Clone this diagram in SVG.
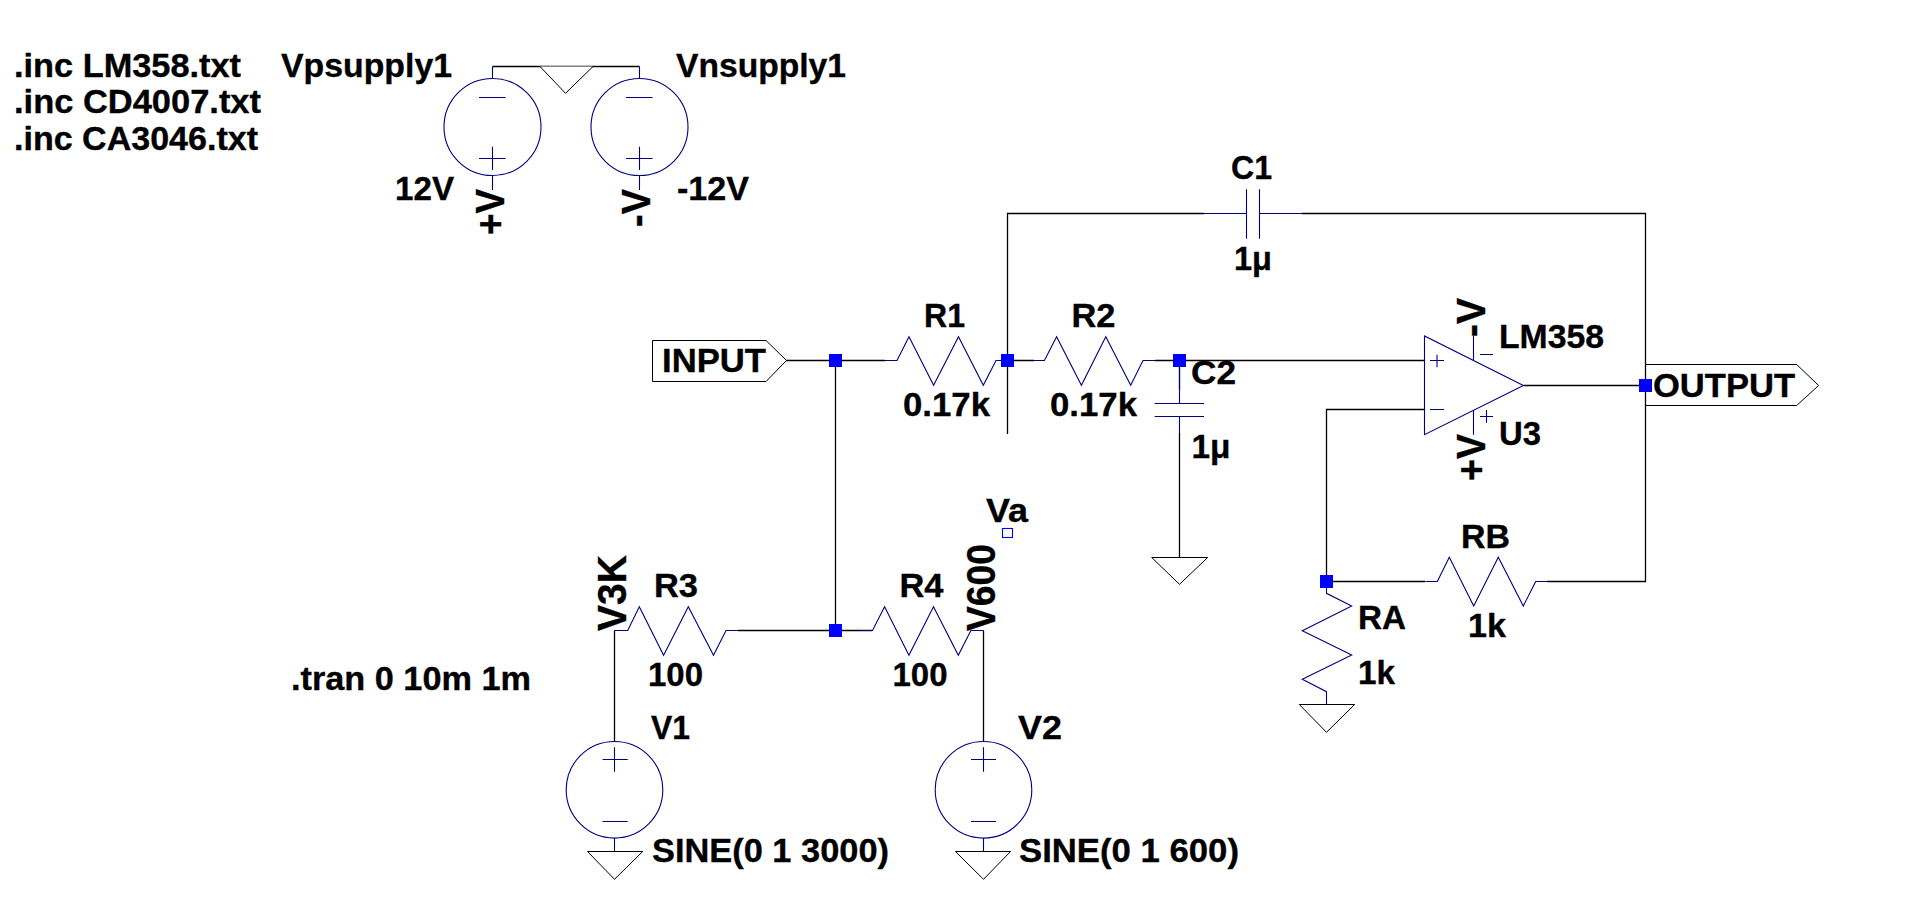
<svg xmlns="http://www.w3.org/2000/svg" width="1916" height="917" viewBox="0 0 1916 917">
<style>
text{font-family:"Liberation Sans",Arial,sans-serif;font-weight:bold;font-size:34px;fill:#000;stroke:#000;stroke-width:.35}
.rot{font-size:40px}
.w{fill:none;stroke:#000;stroke-width:1.3}
.s{fill:none;stroke:#000080;stroke-width:1.1}
.g{fill:#fff;stroke:#000;stroke-width:1}
.j{fill:#0000ff}
</style>
<rect width="1916" height="917" fill="#fff"/>
<g id="connectors">
<path class="w" d="M492.500 66.500H639.500"/>
<path class="w" d="M786 360.500H885M835.500 360.500V630.500M1034 360.500H1007.500M1007.500 434V213.500H1204M1302 213.500H1645.500V581.500H1547M1155 360.500H1424.500M1179.500 360.500V390M1179.500 433V557"/>
<path class="w" d="M1523.500 385.500H1645.500M1424.500 409.500H1326.500V575M1326.500 581.500H1425"/>
<path class="w" d="M738 630.500H872M614.500 630.500V741.700M983.500 630.500V741.700"/>
</g>
<g id="Vpsupply1"><circle class="s" cx="492.500" cy="127" r="48.500"/><path class="s" d="M492.500 66.500V78.500M479 97.500H505.500M479 158.500H505.500M492.500 146.700V170M492.500 175.500V190"/><text x="281" y="76.700" textLength="171" lengthAdjust="spacingAndGlyphs">Vpsupply1</text><text x="395" y="200" textLength="59" lengthAdjust="spacingAndGlyphs">12V</text><text class="rot" transform="translate(503.500,235) rotate(-90)" textLength="46" lengthAdjust="spacingAndGlyphs">+V</text></g>
<g id="Vnsupply1"><circle class="s" cx="639.500" cy="127" r="48.500"/><path class="s" d="M639.500 66.500V78.500M626 97.500H652.500M626 158.500H652.500M639.500 146.700V170M639.500 175.500V190"/><text x="676" y="76.700" textLength="170" lengthAdjust="spacingAndGlyphs">Vnsupply1</text><text x="677" y="200" textLength="72" lengthAdjust="spacingAndGlyphs">-12V</text><text class="rot" transform="translate(650,227) rotate(-90)" textLength="38" lengthAdjust="spacingAndGlyphs">-V</text></g>
<g id="ground-top"><path class="g" d="M540 66.500L565.500 93.300L593 66.500"/></g>
<g id="directives"><text x="14" y="76.700" textLength="227" lengthAdjust="spacingAndGlyphs">.inc LM358.txt</text><text x="14" y="113" textLength="247" lengthAdjust="spacingAndGlyphs">.inc CD4007.txt</text><text x="14" y="150" textLength="244" lengthAdjust="spacingAndGlyphs">.inc CA3046.txt</text><text x="291" y="690" textLength="240" lengthAdjust="spacingAndGlyphs">.tran 0 10m 1m</text></g>
<g id="INPUT"><path class="g" d="M652.500 340.500H766L786.500 360.500L766 381.500H652.500Z"/><text x="662" y="371.500" textLength="104" lengthAdjust="spacingAndGlyphs">INPUT</text></g>
<g id="OUTPUT"><path class="g" style="fill:none" d="M1645.500 364.500H1796.700L1818.600 385.500L1796.700 405.500H1645.500"/><text x="1653" y="396.700" textLength="142" lengthAdjust="spacingAndGlyphs">OUTPUT</text></g>
<g id="R1"><path class="s" d="M885 360.500H897L909 336.700L933.600 385.300L958.500 336.700L983.300 385.300L996 360.500H1007"/><text x="924" y="326.700" textLength="41" lengthAdjust="spacingAndGlyphs">R1</text><text x="903" y="416" textLength="87" lengthAdjust="spacingAndGlyphs">0.17k</text></g>
<g id="R2"><path class="s" d="M1034 360.500H1044.400L1056.600 336.700L1081.400 385.300L1105.800 336.700L1130.700 385.300L1143 360.500H1155"/><text x="1071.500" y="326.700" textLength="44" lengthAdjust="spacingAndGlyphs">R2</text><text x="1050" y="416" textLength="87" lengthAdjust="spacingAndGlyphs">0.17k</text></g>
<g id="C1"><path class="s" d="M1204 213.500H1246.500M1259.500 213.500H1302M1246.500 189.300V238.700M1259.500 189.300V238.700"/><text x="1231" y="179.300" textLength="41" lengthAdjust="spacingAndGlyphs">C1</text><text x="1234" y="270" textLength="38" lengthAdjust="spacingAndGlyphs">1μ</text></g>
<g id="C2"><path class="s" d="M1179.500 366V403.500M1179.500 416.500V433M1154.700 403.500H1204M1154.700 416.500H1204"/><text x="1191" y="384" textLength="45" lengthAdjust="spacingAndGlyphs">C2</text><text x="1191.500" y="457.700" textLength="39" lengthAdjust="spacingAndGlyphs">1μ</text></g>
<g id="ground-c2"><path class="g" d="M1151.700 557.500H1207.700L1179.500 584.300Z"/></g>
<g id="U3"><path class="s" d="M1424.500 336V434.700L1523.400 385.500ZM1430 360.500H1444M1437 354.700V367.300M1430 409.500H1444M1473.500 336V360M1473.500 410V434.700M1480 354.500H1493M1480 416.500H1493M1486.500 410V422.700"/><text x="1499" y="347.700" textLength="105" lengthAdjust="spacingAndGlyphs">LM358</text><text x="1499" y="445" textLength="42" lengthAdjust="spacingAndGlyphs">U3</text><text class="rot" transform="translate(1485,337) rotate(-90)" textLength="39" lengthAdjust="spacingAndGlyphs">-V</text><text class="rot" transform="translate(1485,481) rotate(-90)" textLength="47" lengthAdjust="spacingAndGlyphs">+V</text></g>
<g id="RA"><path class="s" d="M1326.500 588V593.300L1351.700 606L1302.300 630.700L1351.700 655L1302.300 679.300L1326.500 691.700V704"/><text x="1358" y="629.300" textLength="48" lengthAdjust="spacingAndGlyphs">RA</text><text x="1358" y="684" textLength="37" lengthAdjust="spacingAndGlyphs">1k</text></g>
<g id="ground-ra"><path class="g" d="M1299.300 704.500H1354.700L1326.500 732.300Z"/></g>
<g id="RB"><path class="s" d="M1425.300 581.500H1437.300L1449.300 557.300L1473.700 606L1498.300 557.300L1523.300 606L1535.700 581.500H1547"/><text x="1461" y="547.700" textLength="49" lengthAdjust="spacingAndGlyphs">RB</text><text x="1468" y="637.300" textLength="38" lengthAdjust="spacingAndGlyphs">1k</text></g>
<g id="R3"><path class="s" d="M614.500 630.500H627.700L639.300 606.700L663.600 655.300L688.300 606.700L713.500 655.300L726 630.500H738"/><text x="654" y="596.700" textLength="44" lengthAdjust="spacingAndGlyphs">R3</text><text x="648" y="686" textLength="55" lengthAdjust="spacingAndGlyphs">100</text><text class="rot" transform="translate(626,631) rotate(-90)" textLength="76" lengthAdjust="spacingAndGlyphs">V3K</text></g>
<g id="R4"><path class="s" d="M860 630.500H872.500L884.600 606.700L908.900 655.300L933.500 606.700L958.300 655.300L970.900 630.500H983.500"/><text x="899.500" y="596.700" textLength="44" lengthAdjust="spacingAndGlyphs">R4</text><text x="892.500" y="686" textLength="55" lengthAdjust="spacingAndGlyphs">100</text><text class="rot" transform="translate(994.600,631) rotate(-90)" textLength="87" lengthAdjust="spacingAndGlyphs">V600</text></g>
<g id="Va"><rect x="1002.500" y="528.500" width="10" height="9" fill="none" stroke="#0000ff" stroke-width="1.100"/><text x="986" y="521.700" textLength="42" lengthAdjust="spacingAndGlyphs">Va</text></g>
<g id="V1"><circle class="s" cx="614.500" cy="789.800" r="48.300"/><path class="s" d="M602.500 759.500H627.700M614.500 747.300V771.700M602.500 821.500H627.700M614.500 838V851"/><text x="651" y="739.300" textLength="39" lengthAdjust="spacingAndGlyphs">V1</text><text x="652" y="861.700" textLength="237" lengthAdjust="spacingAndGlyphs">SINE(0 1 3000)</text></g>
<g id="ground-v1"><path class="g" d="M587.500 851.500H642.700L614.500 879.300Z"/></g>
<g id="V2"><circle class="s" cx="983.500" cy="789.800" r="48.300"/><path class="s" d="M971 759.500H996M983.500 747.300V771.700M971 821.500H996M983.500 838V851"/><text x="1018" y="739.300" textLength="44" lengthAdjust="spacingAndGlyphs">V2</text><text x="1019" y="861.700" textLength="220" lengthAdjust="spacingAndGlyphs">SINE(0 1 600)</text></g>
<g id="ground-v2"><path class="g" d="M955.400 851.500H1010.600L983.500 879.300Z"/></g>
<g id="junctions">
<rect class="j" x="829" y="354" width="13" height="13"/>
<rect class="j" x="1001" y="354" width="13" height="13"/>
<rect class="j" x="1173" y="354" width="13" height="13"/>
<rect class="j" x="1639" y="379" width="13" height="13"/>
<rect class="j" x="1320" y="575" width="13" height="13"/>
<rect class="j" x="829" y="624" width="13" height="13"/>
</g>
</svg>
